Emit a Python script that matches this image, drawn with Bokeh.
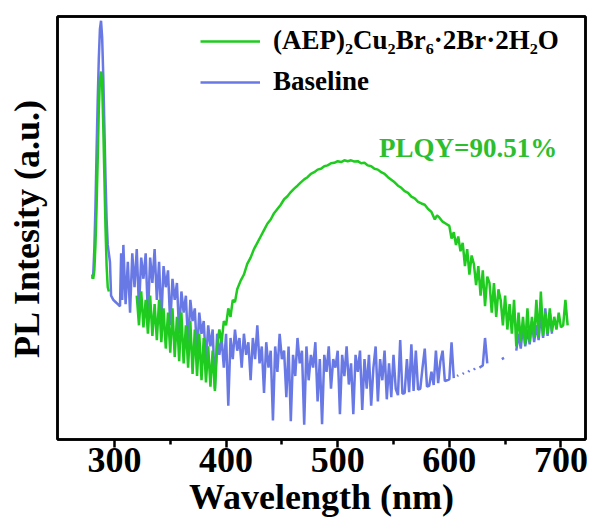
from bokeh.plotting import figure
from bokeh.models import Range1d, FixedTicker, Legend, LegendItem, Label, LinearAxis
from bokeh.embed import file_html
from bokeh.resources import INLINE

NAN = float("nan")

# (AEP)2Cu2Br6·2Br·2H2O spectrum
g_wl = [280, 281, 282, 283, 284, 285, 286, 287, 288, 289, 290, 291, 292, 293, 294, 295, 296,
        320, 322, 324, 326, 328, 330, 332, 334, 336, 338, 340, 342, 344, 346, 348, 350,
        352, 354, 356, 358, 360, 362, 364, 366, 368, 370, 372, 374, 376, 378, 380, 382,
        384, 386, 388, 390, 392, 394, 396, 398, 400, 402, 404, 406, 408, 410, 413, 416,
        419, 422, 425, 428, 431, 434, 437, 440, 443, 446, 449, 452, 455, 458, 461, 464,
        467, 470, 473, 476, 479, 482, 485, 488, 491, 494, 497, 500, 503, 506, 509, 512,
        515, 518, 521, 524, 527, 530, 533, 536, 539, 542, 545, 548, 551, 554, 557, 560,
        563, 566, 569, 572, 575, 578, 581, 584, 587, 589, 591, 594, 597, 600, 602, 604,
        606, 608, 610, 612, 614, 616, 618, 620, 622, 624, 626, 628, 630, 632, 634, 636,
        638, 640, 642, 644, 646, 648, 650, 652, 654, 656, 658, 660, 662, 664, 666, 668,
        670, 672, 674, 676, 678, 680, 682, 684, 686, 688, 690, 692, 694, 696, 698, 700,
        702, 704, 706]
g_int = [39, 38, 40, 46, 55, 66, 78, 85, 87, 84, 74, 62, 50, 41, 36, 35, NAN,
         34, 27, 35, 26.5, 33, 25, 34, 24.5, 32, 23.5, 33, 23, 31, 21.5, 30, 20.5,
         31, 19.5, 29, 18.5, 30, 18, 27, 17, 28, 15.5, 26, 15, 25, 14, 24, 13.5,
         22, 12.5, 21, 11.5, 22, 26, 23, 28, 27, 31, 29, 33, 32.5, 35.5, 37.5, 39,
         41.5, 43, 45, 46.5, 48, 49.5, 51, 52, 53.5, 54.5, 55.5, 56.8, 57.5, 58.5, 59.3, 60,
         60.8, 61.5, 62, 62.8, 63.2, 63.8, 64, 64.6, 64.8, 65.3, 65.4, 65.8, 65.6, 66, 65.8, 66,
         65.7, 65.8, 65.3, 65.4, 64.8, 64.6, 64, 63.8, 63.2, 62.8, 62, 61.4, 60.8, 60, 59.5, 58.7,
         58.3, 57.4, 57, 56.2, 55.8, 55.5, 54.5, 53.8, 52, 53, 52.5, 51.5, 51, 50.5, 47.5, 49,
         46, 48, 44.5, 46.5, 41, 45, 39, 43.5, 41.5, 36.5, 41, 34, 40, 31.5, 38.5, 37,
         30, 37, 29, 35.5, 33, 27, 34, 26, 32, 25, 33, 22, 30, 23, 29, 22.5,
         31, 23, 29, 24, 33, 24, 35, 24.5, 30, 25, 31, 25.5, 29, 26, 30, 26.5,
         27, 33, 27]

# Baseline spectrum
b_wl = [280, 281, 282, 283, 284, 285, 286, 287, 288, 289, 290, 291, 292, 293, 294, 295, 296,
        297, 299, 301, 303, 305, 306, 307, 308, 310, 312, 314, 316, 318, 320, 322, 324,
        326, 328, 330, 332, 334, 336, 338, 340, 342, 344, 346, 348, 350, 352, 354, 356,
        358, 360, 362, 364, 366, 368, 370, 372, 374, 376, 378, 380, 382, 384, 386, 388,
        390, 392, 394, 396, 398, 400, 402, 404, 406, 408, 410, 412, 414, 416, 418, 420,
        422, 424, 426, 428, 430, 432, 434, 436, 438, 440, 442, 444, 446, 448, 450, 452,
        454, 456, 458, 460, 462, 464, 466, 468, 470, 472, 474, 476, 478, 480, 482, 484,
        486, 488, 490, 492, 494, 496, 498, 500, 502, 504, 506, 508, 510, 512, 514, 516,
        518, 520, 522, 524, 526, 528, 530, 532, 534, 536, 538, 540, 542, 544, 546, 548,
        550, 552, 554, 556, 558, 560, 562, 564, 566, 568, 570, 572, 574, 576, 578, 580,
        582, 584, 586, 588, 590, 592, 594, 596, 598, 600, 602, 604, 605, 607, 608, 610,
        612, 613, 615, 617, 618, 620, 622, 623, 625, 627, 630, 632, 634, 635, 647, 649,
        650, 660, 662, 664, 666, 668, 670, 672, 674, 676, 678, 680, 682, 684, 686, 688,
        690, 692]
b_int = [38, 39, 45, 55, 68, 80, 90, 97, 99, 95, 86, 74, 62, 52, 46, 44, 42,
         34, 33, 32.5, 32, 31.5, 44, 33, 46, 32, 42, 30, 44, 36, 45, 31, 43,
         38, 44, 29, 43, 37, 45, 33, 42, 28, 41, 36, 40, 27, 38, 33, 37,
         25, 35, 30, 34, 22, 33, 28, 31, 20, 30, 25, 28, 18, 27, 22, 26,
         12, 25, 20, 24, 17, 25, 8, 24, 19, 26, 21, 24, 17, 25, 20, 23,
         14, 24, 19, 27, 18, 22, 11, 23, 17, 21, 4.5, 22, 16, 25, 19, 21,
         10, 22, 4.3, 20, 15, 24, 18, 21, 3.5, 22, 14, 20, 17, 23, 9, 19,
         3.6, 20, 16, 22, 12, 19, 17, 21, 6, 20, 15, 22, 13, 18, 6, 20,
         16, 21, 7, 19, 12, 20, 8, 17, 22, 9, 19, 14, 21, 9.5, 18, 10,
         20, 12, 10.5, 23.5, 10.8, 11, 19, 11.2, 22.5, 11.5, 21, 11.8, 12, 17, 21.5, 12.5,
         12.7, 16, 12.9, 21, 13.3, 18.5, 21, 13.8, 14, 14.2, 23, 14.5, NAN, 15, 15.2, NAN,
         15.5, 15.7, NAN, 16, 16.3, NAN, 16.5, 16.8, NAN, 17, 17.5, 24, 18, NAN, 19, 19.3,
         NAN, 21, 25, 21.5, 27, 22, 26, 22.5, 28, 23, 27, 23.5, 30, 24, 31, 24.5,
         30, 25]

x_ticks = [300, 400, 500, 600, 700]
x_minor = [350, 450, 550, 650]
X_MIN, X_MAX = 249, 722
Y_MIN, Y_MAX = 0, 100

GREEN = "#1ECB1E"
BLUE = "#6878E4"
FONT = "Liberation Serif"

p = figure(width=590, height=520, output_backend="svg", toolbar_location=None,
           x_range=Range1d(X_MIN, X_MAX), y_range=Range1d(Y_MIN, Y_MAX),
           min_border_left=57, min_border_right=5, min_border_top=16, min_border_bottom=81)
p.grid.visible = False
p.outline_line_color = "black"
p.outline_line_width = 2.5

bl = p.line(b_wl, b_int, line_color=BLUE, line_width=2.5)
gl = p.line(g_wl, g_int, line_color=GREEN, line_width=2.5)


def hide_ticks(ax):
    ax.major_tick_line_color = None
    ax.minor_tick_line_color = None
    ax.major_tick_in = 0
    ax.major_tick_out = 0
    ax.minor_tick_in = 0
    ax.minor_tick_out = 0
    ax.major_label_text_font_size = "1px"
    ax.major_label_text_color = None
    ax.major_label_standoff = 0
    ax.axis_line_color = "black"
    ax.axis_line_width = 2.5


xa = p.below[0]
xa.ticker = FixedTicker(ticks=x_ticks, minor_ticks=x_minor)
xa.axis_line_width = 2.5
xa.major_tick_line_width = 2.5
xa.minor_tick_line_width = 2.5
xa.major_tick_in = 0
xa.major_tick_out = 8
xa.minor_tick_in = 0
xa.minor_tick_out = 5
xa.major_label_standoff = 0
xa.major_label_text_font = FONT
xa.major_label_text_font_style = "bold"
xa.major_label_text_font_size = "36px"
xa.major_label_text_color = "black"
xa.axis_label = "Wavelength (nm)"
xa.axis_label_text_font = FONT
xa.axis_label_text_font_style = "bold"
xa.axis_label_text_font_size = "36px"
xa.axis_label_text_color = "black"
xa.axis_label_standoff = 2

ya = p.left[0]
ya.ticker = FixedTicker(ticks=[50])
hide_ticks(ya)
ya.axis_label = "PL Intesity (a.u.)"
ya.axis_label_text_font = FONT
ya.axis_label_text_font_style = "bold"
ya.axis_label_text_font_size = "36px"
ya.axis_label_text_color = "black"
ya.axis_label_standoff = 11

# plain frame lines on top and right
right_ax = LinearAxis(ticker=FixedTicker(ticks=[50]))
hide_ticks(right_ax)
p.add_layout(right_ax, "right")
top_ax = LinearAxis(ticker=FixedTicker(ticks=[500]))
hide_ticks(top_ax)
p.add_layout(top_ax, "above")

legend = Legend(items=[LegendItem(label="(AEP)\u2082Cu\u2082Br\u2086\u00b72Br\u00b72H\u2082O", renderers=[gl]),
                       LegendItem(label="Baseline", renderers=[bl])],
                location=(143, 342))
legend.border_line_color = None
legend.background_fill_alpha = 0
legend.padding = 0
legend.margin = 0
legend.spacing = 10
legend.glyph_width = 60
legend.glyph_height = 30
legend.label_height = 30
legend.label_standoff = 13
legend.label_text_font = FONT
legend.label_text_font_style = "bold"
legend.label_text_font_size = "27px"
legend.label_text_color = "black"
p.add_layout(legend)

plqy = Label(x=537, y=68.8, text="PLQY=90.51%", text_font=FONT, text_font_style="bold",
             text_font_size="27px", text_color="#2DBE2D", text_baseline="alphabetic")
p.add_layout(plqy)

open("out.html", "w").write(file_html(p, INLINE))
